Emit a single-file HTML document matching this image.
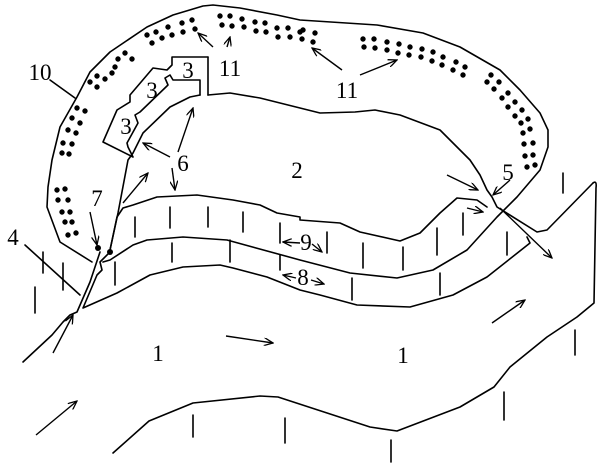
<!DOCTYPE html>
<html><head><meta charset="utf-8"><style>
html,body{margin:0;padding:0;background:#fff;}
svg{display:block;}
text{font-family:"Liberation Serif",serif;font-size:23px;fill:#000;text-anchor:middle;}
</style></head><body>
<svg width="600" height="475" viewBox="0 0 600 475" xmlns="http://www.w3.org/2000/svg">
<defs>
<marker id="ah" markerWidth="10" markerHeight="8" refX="9" refY="4" orient="auto" markerUnits="userSpaceOnUse">
<path d="M0,0 L9,4 L0,8" fill="none" stroke="#000" stroke-width="1.3"/>
</marker>
</defs>
<g fill="none" stroke="#000" stroke-width="1.6" stroke-linejoin="round" stroke-linecap="round">
<!-- outer loop 10 -->
<polyline points="92,262 60,242 47,207 48,187 52,160 60,127 77,97 90,72 110,52 147,27 173,15 203,6 213,5 240,8 277,15 300,20 377,25 423,33 460,47 500,70 520,90 540,113 548,130 548,147 540,170 517,197 497,217 467,250 433,270 397,278 350,273 300,260 227,240 183,237 147,240 133,245 110,260 103,262"/>
<!-- lake 2 -->
<polyline points="208,95 230,93 260,98 300,108 320,113 355,112 375,110 400,115 440,130 470,160 480,175 487,190 492,197 497,207 537,232 547,230 593,183"/>
<polyline points="200,95 190,97 170,107 143,133 133,153 128,160 118,213 110,250"/>
<path d="M593,183 Q597,180 596,188 L594,303 L577,317 L547,337 L510,367 L494,387 L460,407 L397,431 L370,427 L278,397 L260,396 L193,403 L149,421 L113,453"/>
<!-- structure 3 -->
<polyline points="208,57 172,57 172,65 167,70 153,68 130,95 130,102 117,110 103,142 133,157 128,147 127,143 138,123 135,115 140,112 168,85 165,78 170,75 173,80 200,80 200,95"/>
<line x1="208" y1="57" x2="208" y2="95"/>
<!-- upper ribbon top -->
<polyline points="110,250 117,217 123,208 133,205 157,197 197,195 233,200 260,205 277,213 300,217 300,220 340,223 360,232 400,241 420,233 440,213 457,198 477,200 487,207"/>
<!-- lower ribbon bottom -->
<polyline points="110,252 100,262 102,270 97,275 83,308 117,293 150,275 183,267 220,265 233,268 267,277 300,290 320,295 357,305 410,307 453,295 487,277 530,243 527,237"/>
<!-- channel left -->
<polyline points="100,252 90,282 77,312 70,315 63,322 52,335 23,362"/>
<!-- ticks -->
<path d="M43,252V273 M63,263V290 M35,287V313 M135,217V237 M170,207V228 M208,207V227 M243,212V232 M280,223V243 M115,262V285 M172,243V262 M230,240V262 M280,255V270 M327,232V253 M363,243V268 M403,247V270 M437,228V255 M463,213V235 M507,232V255 M352,278V300 M440,273V295 M563,173V193 M575,330V355 M193,415V437 M285,418V443 M391,440V462 M504,392V420"/>
<!-- leaders -->
<line x1="50" y1="80" x2="75" y2="98"/>
<line x1="25" y1="245" x2="80" y2="295"/>
</g>
<g fill="none" stroke="#000" stroke-width="1.4" marker-end="url(#ah)">
<line x1="213" y1="47" x2="198" y2="33"/>
<line x1="227" y1="47" x2="230" y2="37"/>
<line x1="342" y1="70" x2="312" y2="48"/>
<line x1="360" y1="75" x2="397" y2="60"/>
<line x1="170" y1="157" x2="143" y2="143"/>
<line x1="178" y1="152" x2="193" y2="108"/>
<line x1="123" y1="203" x2="148" y2="173"/>
<line x1="172" y1="168" x2="175" y2="190"/>
<line x1="90" y1="212" x2="97" y2="245"/>
<line x1="447" y1="175" x2="478" y2="190"/>
<line x1="510" y1="180" x2="493" y2="195"/>
<line x1="467" y1="208" x2="483" y2="212"/>
<line x1="500" y1="208" x2="552" y2="258"/>
<line x1="53" y1="353" x2="73" y2="315"/>
<line x1="226" y1="336" x2="273" y2="343"/>
<line x1="36" y1="435" x2="77" y2="401"/>
<line x1="492" y1="323" x2="525" y2="300"/>
<line x1="300" y1="243" x2="283" y2="242"/>
<line x1="312" y1="244" x2="322" y2="252"/>
<line x1="296" y1="278" x2="283" y2="275"/>
<line x1="311" y1="280" x2="324" y2="284"/>
</g>
<g fill="#000">
<circle cx="98" cy="248" r="3"/><circle cx="110" cy="252" r="3"/>
</g>
<g fill="#000" stroke="#000" stroke-width="0.8">
<circle cx="147" cy="35" r="2.3"/><circle cx="152" cy="43" r="2.3"/><circle cx="156" cy="32" r="2.3"/><circle cx="162" cy="38" r="2.3"/><circle cx="168" cy="27" r="2.3"/><circle cx="172" cy="35" r="2.3"/><circle cx="182" cy="23" r="2.3"/><circle cx="183" cy="32" r="2.3"/><circle cx="192" cy="20" r="2.3"/><circle cx="195" cy="29" r="2.3"/>
<circle cx="90" cy="82" r="2.3"/><circle cx="97" cy="87" r="2.3"/><circle cx="97" cy="76" r="2.3"/><circle cx="105" cy="79" r="2.3"/><circle cx="112" cy="73" r="2.3"/><circle cx="118" cy="59" r="2.3"/><circle cx="115" cy="67" r="2.3"/><circle cx="125" cy="53" r="2.3"/><circle cx="132" cy="59" r="2.3"/>
<circle cx="77" cy="108" r="2.3"/><circle cx="85" cy="111" r="2.3"/><circle cx="72" cy="118" r="2.3"/><circle cx="80" cy="123" r="2.3"/><circle cx="68" cy="130" r="2.3"/><circle cx="76" cy="133" r="2.3"/><circle cx="63" cy="143" r="2.3"/><circle cx="72" cy="144" r="2.3"/><circle cx="62" cy="153" r="2.3"/><circle cx="69" cy="154" r="2.3"/>
<circle cx="57" cy="190" r="2.3"/><circle cx="65" cy="189" r="2.3"/><circle cx="58" cy="200" r="2.3"/><circle cx="68" cy="200" r="2.3"/><circle cx="62" cy="212" r="2.3"/><circle cx="70" cy="212" r="2.3"/><circle cx="65" cy="222" r="2.3"/><circle cx="72" cy="222" r="2.3"/><circle cx="68" cy="235" r="2.3"/><circle cx="76" cy="233" r="2.3"/>
<circle cx="220" cy="16" r="2.3"/><circle cx="230" cy="16" r="2.3"/><circle cx="222" cy="25" r="2.3"/><circle cx="232" cy="26" r="2.3"/><circle cx="242" cy="19" r="2.3"/><circle cx="244" cy="27" r="2.3"/><circle cx="255" cy="22" r="2.3"/><circle cx="256" cy="31" r="2.3"/><circle cx="265" cy="23" r="2.3"/><circle cx="266" cy="32" r="2.3"/><circle cx="277" cy="28" r="2.3"/><circle cx="278" cy="37" r="2.3"/><circle cx="288" cy="28" r="2.3"/><circle cx="290" cy="37" r="2.3"/><circle cx="300" cy="32" r="2.3"/>
<circle cx="303" cy="30" r="2.3"/><circle cx="315" cy="33" r="2.3"/><circle cx="302" cy="39" r="2.3"/><circle cx="313" cy="42" r="2.3"/>
<circle cx="363" cy="39" r="2.3"/><circle cx="374" cy="39" r="2.3"/><circle cx="364" cy="47" r="2.3"/><circle cx="375" cy="48" r="2.3"/><circle cx="387" cy="42" r="2.3"/><circle cx="387" cy="50" r="2.3"/><circle cx="399" cy="44" r="2.3"/><circle cx="398" cy="53" r="2.3"/><circle cx="410" cy="47" r="2.3"/><circle cx="409" cy="55" r="2.3"/><circle cx="422" cy="49" r="2.3"/><circle cx="421" cy="57" r="2.3"/><circle cx="433" cy="52" r="2.3"/><circle cx="432" cy="61" r="2.3"/><circle cx="443" cy="57" r="2.3"/><circle cx="442" cy="65" r="2.3"/><circle cx="456" cy="62" r="2.3"/><circle cx="453" cy="70" r="2.3"/><circle cx="465" cy="67" r="2.3"/><circle cx="463" cy="75" r="2.3"/>
<circle cx="491" cy="75" r="2.3"/><circle cx="499" cy="82" r="2.3"/><circle cx="487" cy="82" r="2.3"/><circle cx="494" cy="89" r="2.3"/><circle cx="508" cy="93" r="2.3"/><circle cx="502" cy="98" r="2.3"/><circle cx="515" cy="102" r="2.3"/><circle cx="508" cy="107" r="2.3"/><circle cx="522" cy="110" r="2.3"/><circle cx="515" cy="116" r="2.3"/><circle cx="528" cy="119" r="2.3"/><circle cx="521" cy="123" r="2.3"/><circle cx="530" cy="129" r="2.3"/><circle cx="523" cy="133" r="2.3"/><circle cx="533" cy="143" r="2.3"/><circle cx="524" cy="144" r="2.3"/><circle cx="533" cy="155" r="2.3"/><circle cx="525" cy="156" r="2.3"/><circle cx="535" cy="165" r="2.3"/><circle cx="527" cy="167" r="2.3"/>
</g>
<text x="40" y="80">10</text>
<text x="230" y="76">11</text>
<text x="347" y="98">11</text>
<text x="188" y="78">3</text>
<text x="152" y="98">3</text>
<text x="126" y="134">3</text>
<text x="183" y="171">6</text>
<text x="297" y="178">2</text>
<text x="508" y="180">5</text>
<text x="97" y="206">7</text>
<text x="13" y="245">4</text>
<text x="306" y="250">9</text>
<text x="303" y="285">8</text>
<text x="158" y="361">1</text>
<text x="403" y="363">1</text>
</svg>
</body></html>
